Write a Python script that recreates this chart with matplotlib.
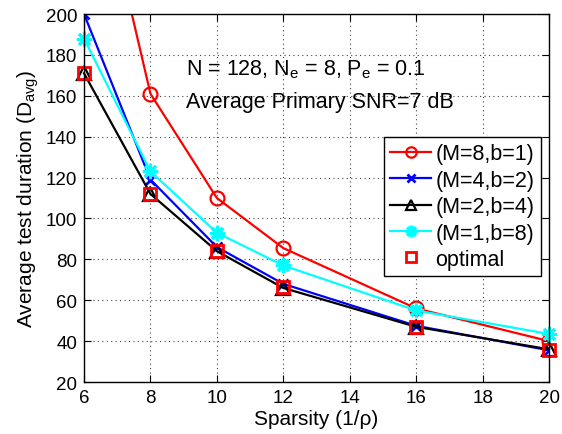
import matplotlib
matplotlib.use("Agg")
import matplotlib.pyplot as plt

plt.rcParams['font.family'] = ['Liberation Sans', 'DejaVu Sans']
plt.rcParams['mathtext.fontset'] = 'custom'
plt.rcParams['mathtext.rm'] = 'Liberation Sans'
plt.rcParams['mathtext.it'] = 'Liberation Sans'

sparsity = [6, 8, 10, 12, 16, 20]
m8b1 = [300, 161, 110, 85.5, 56, 40]
m4b2 = [200, 119, 86, 68, 47.5, 35.5]
m2b4 = [171, 112, 84, 66, 47, 36]
m1b8 = [188, 123, 93, 77, 55, 43.5]
optimal = [171, 112, 84, 66.5, 47, 35.5]

labels = ['(M=8,b=1)', '(M=4,b=2)', '(M=2,b=4)', '(M=1,b=8)', 'optimal']
xticks = [6, 8, 10, 12, 14, 16, 18, 20]
yticks = [20, 40, 60, 80, 100, 120, 140, 160, 180, 200]

fig = plt.figure(figsize=(5.62, 4.35), dpi=100)
ax = fig.add_axes([0.1495, 0.1195, 0.9769 - 0.1495, 0.9655 - 0.1195])

lw = 1.6
ax.plot(sparsity, m8b1, color='red', lw=lw, marker='o', ms=10, mfc='none', mew=1.6, label=labels[0])
ax.plot(sparsity, m4b2, color='blue', lw=lw, marker='x', ms=7.5, mew=2, label=labels[1])
ax.plot(sparsity, m2b4, color='black', lw=lw, marker='^', ms=10, mfc='none', mew=1.6, label=labels[2], clip_on=False)
ax.plot(sparsity, m1b8, color='cyan', lw=lw, marker=(8, 2, 0), ms=11, mew=2.2, label=labels[3], clip_on=False)
ax.plot(sparsity, optimal, color='red', lw=0, marker='s', ms=9, mfc='none', mew=2, label=labels[4], clip_on=False)

ax.set_xlim(6, 20)
ax.set_ylim(20, 200)
ax.set_xticks(xticks)
ax.set_yticks(yticks)
ax.tick_params(direction='in', top=True, right=True, labelsize=13.5, length=5, pad=5)
ax.grid(True, linestyle=(0, (1, 3)), color='#444444', lw=0.8)
for s in ax.spines.values():
    s.set_linewidth(1.0)

ax.set_xlabel('Sparsity (1/\u03c1)', fontsize=15, labelpad=2)
ax.set_ylabel('Average test duration (D$_{\\mathrm{avg}}$)', fontsize=15, labelpad=3)

fig.text(186 / 562, 1 - 70 / 435, 'N = 128, N$_{\\mathrm{e}}$ = 8, P$_{\\mathrm{e}}$ = 0.1', fontsize=15.5, va='center', ha='left')
fig.text(186 / 562, 1 - 103 / 435, 'Average Primary SNR=7 dB', fontsize=15.5, va='center', ha='left')

leg = ax.legend(loc='upper right', bbox_to_anchor=(541 / 562, 1 - 138 / 435), bbox_transform=fig.transFigure,
                fontsize=15.5, fancybox=False, framealpha=1, edgecolor='black', borderpad=0.3,
                labelspacing=0.25, handlelength=1.9, handletextpad=0.2, borderaxespad=0, markerscale=0.75)
leg.get_frame().set_linewidth(1.0)

fig.savefig('out.png', dpi=100)
